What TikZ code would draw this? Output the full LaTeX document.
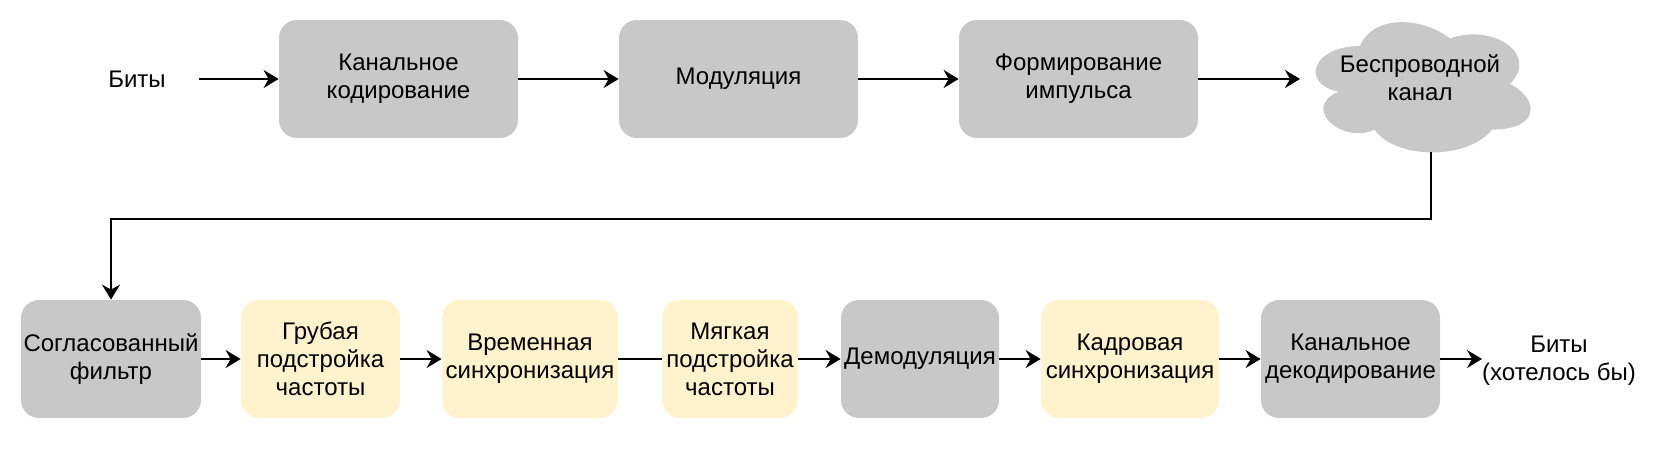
\documentclass[tikz,border=0pt]{standalone}
\usepackage{fontspec}
\setmainfont{Liberation Sans}
\usetikzlibrary{arrows.meta,calc}
\definecolor{blkgray}{HTML}{C8C8C8}
\definecolor{blkyellow}{HTML}{FFF2CC}
\tikzset{
  blk/.style={rounded corners=9pt, fill=blkgray, minimum height=59pt, inner sep=0pt,
    align=center, font=\fontsize{12}{14}\selectfont},
  blky/.style={blk, fill=blkyellow},
  txt/.style={inner sep=0pt, align=center, minimum height=30pt, font=\fontsize{12}{14}\selectfont},
  arr/.style={-{Stealth[length=7.5pt,width=9pt,inset=2.5pt]}, line width=1pt},
  ln/.style={line width=1pt}
}
\begin{document}
\begin{tikzpicture}[x=0.5pt,y=-0.5pt]
\useasboundingbox (0,0) rectangle (1658,457);
% transmitter
  \node[txt, minimum width=62pt] (bitsin) at (137,79) {Биты};
  \node[blk, minimum width=119.5pt] (ccod) at (398.5,79) {Канальное\\кодирование};
  \node[blk, minimum width=119.5pt] (modu) at (738.5,79) {Модуляция};
  \node[blk, minimum width=119.5pt] (pulse) at (1078.5,79) {Формирование\\импульса};
% channel (cloud)
\begin{scope}[shift={(1300,8)},x=120pt,y=-76pt]
  \fill[blkgray] (0.25,0.25) .. controls (0.05,0.25) and (0,0.5) .. (0.16,0.55)
    .. controls (0,0.66) and (0.18,0.9) .. (0.31,0.8)
    .. controls (0.4,1) and (0.7,1) .. (0.8,0.8)
    .. controls (1,0.8) and (1,0.6) .. (0.875,0.5)
    .. controls (1,0.3) and (0.8,0.1) .. (0.625,0.2)
    .. controls (0.5,0.05) and (0.3,0.05) .. (0.25,0.25) -- cycle;
\end{scope}
  \node[txt] (chan) at (1420,78) {Беспроводной\\канал};
  \coordinate (chanW) at (1300,79);
  \coordinate (chanS) at (1431,152);
  \coordinate (turn) at (1431,219);
% receiver
  \node[blk, minimum width=90pt] (mfilt) at (111,359) {Согласованный\\фильтр};
  \node[blky, minimum width=79.5pt] (coarse) at (320.5,359) {Грубая\\подстройка\\частоты};
  \node[blky, minimum width=88pt] (tsync) at (530,359) {Временная\\синхронизация};
  \node[blky, minimum width=68pt] (fine) at (730,359) {Мягкая\\подстройка\\частоты};
  \node[blk, minimum width=79pt] (demod) at (920,359) {Демодуляция};
  \node[blky, minimum width=89pt] (fsync) at (1130,359) {Кадровая\\синхронизация};
  \node[blk, minimum width=89.5pt] (cdec) at (1350.5,359) {Канальное\\декодирование};
  \node[txt] (bitsout) at (1559,361) {Биты\\(хотелось бы)};
  \coordinate (bitsoutW) at (1482,359);
% arrows
  \draw[arr] (bitsin) -- (ccod);
  \draw[arr] (ccod) -- (modu);
  \draw[arr] (modu) -- (pulse);
  \draw[arr] (pulse) -- (chanW);
  \draw[arr] (chanS) -- (turn) -| (mfilt.north);
  \draw[arr] (mfilt) -- (coarse);
  \draw[arr] (coarse) -- (tsync);
  \draw[ln] (tsync) -- (fine); % no tip here
  \draw[arr] (fine) -- (demod);
  \draw[arr] (demod) -- (fsync);
  \draw[arr] (fsync) -- (cdec);
  \draw[arr] (cdec) -- (bitsoutW);
\end{tikzpicture}
\end{document}
